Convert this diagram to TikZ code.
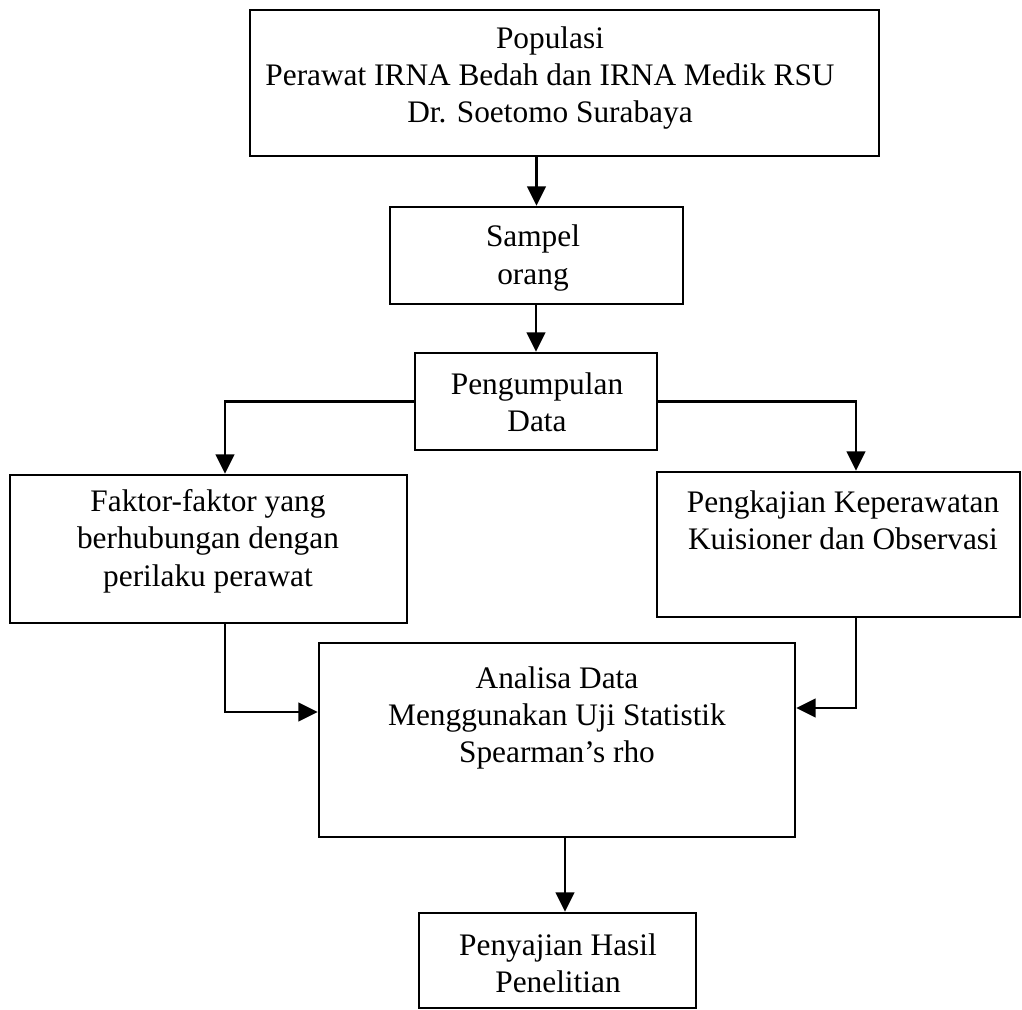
\documentclass[tikz,border=0pt]{standalone}
\usepackage{fontspec}
\setmainfont{Liberation Serif}
\usetikzlibrary{arrows.meta}
\begin{document}
\begin{tikzpicture}[x=0.75pt,y=-0.75pt,
  box/.style={draw, line width=1.9pt, rectangle, inner sep=0pt, fill=none},
  txt/.style={align=center, inner sep=0pt, font=\fontsize{23.5}{28}\selectfont},
  arr/.style={line width=1.7pt, -{Triangle[length=14.5pt,width=14pt]}}]
\useasboundingbox (0,0) rectangle (1022,1010);
% boxes
\node[box, minimum width=471.75pt, minimum height=109.5pt] (b1) at (564.5,83) {};
\node[box, minimum width=219.75pt, minimum height=72.75pt] (b2) at (536.5,255.5) {};
\node[box, minimum width=181.5pt, minimum height=72.75pt] (b3) at (536,401.5) {};
\node[box, minimum width=297.75pt, minimum height=111pt] (b4) at (208.5,549) {};
\node[box, minimum width=272.25pt, minimum height=108.75pt] (b5) at (838.5,544.5) {};
\node[box, minimum width=357pt, minimum height=145.5pt] (b6) at (557,740) {};
\node[box, minimum width=207.75pt, minimum height=71.25pt] (b7) at (557.5,960.5) {};
% texts
\node[txt] (t1) at (550,78) {Populasi\\Perawat IRNA Bedah dan IRNA Medik RSU\\Dr. Soetomo Surabaya};
\node[txt] (t2) at (533,258) {Sampel\\orang};
\node[txt] (t3) at (537,402) {Pengumpulan\\Data};
\node[txt] (t4) at (208,541) {Faktor-faktor yang\\berhubungan dengan\\perilaku perawat};
\node[txt] (t5) at (843,520) {Pengkajian Keperawatan\\Kuisioner dan Observasi};
\node[txt] (t6) at (557,718) {Analisa Data\\Menggunakan Uji Statistik\\Spearman’s rho};
\node[txt] (t7) at (558,963) {Penyajian Hasil\\Penelitian};
% bend coordinates
\coordinate (cl) at (225,0);
\coordinate (cr) at (856,0);
\coordinate (cm) at (565,0);
% connectors
\draw[arr] (b2.north |- b1.south) -- (b2.north);
\draw[arr] (b3.north |- b2.south) -- (b3.north);
\draw[arr] (b3.west) -| (b4.north -| cl);
\draw[arr] (b3.east) -| (b5.north -| cr);
\draw[arr] (b4.south -| cl) |- ([yshift=21pt]b6.west);
\draw[arr] (b5.south -| cr) |- ([yshift=24pt]b6.east);
\draw[arr] (b6.south -| cm) -- (b7.north -| cm);
\end{tikzpicture}
\end{document}
